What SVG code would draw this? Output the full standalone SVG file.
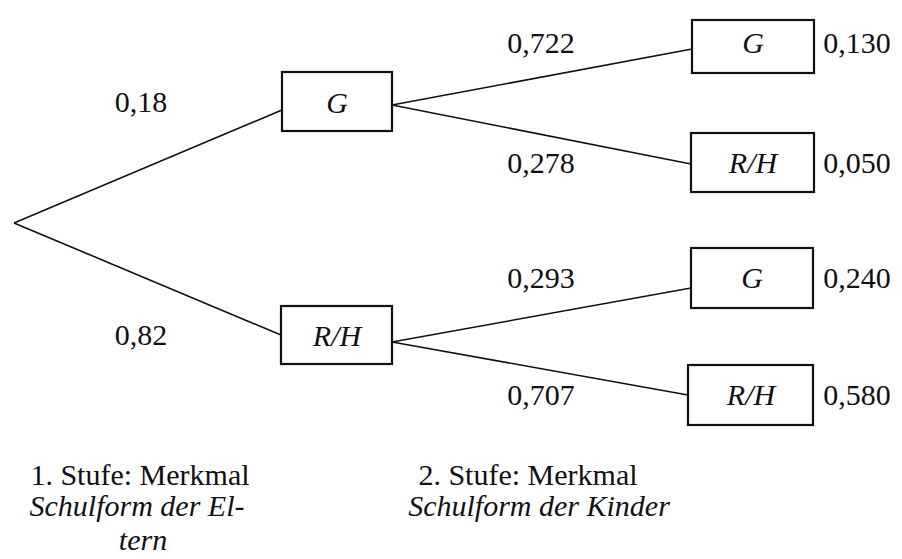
<svg xmlns="http://www.w3.org/2000/svg" width="902" height="559" viewBox="0 0 902 559">
<style>
.box{fill:#fff;stroke:#111;stroke-width:2.2}
.ln{fill:none;stroke:#111;stroke-width:1.6}
text{font-family:"Liberation Serif","Times New Roman",serif;font-size:30px;fill:#111;text-anchor:middle}
.i{font-style:italic}
.c{font-size:30px}
</style>
<rect width="902" height="559" fill="#fff"/>
<g id="connectors">
<line class="ln" x1="14" y1="223" x2="282" y2="110"/>
<line class="ln" x1="14" y1="223" x2="281" y2="335"/>
<line class="ln" x1="392" y1="105" x2="692" y2="49"/>
<line class="ln" x1="392" y1="105" x2="691" y2="164"/>
<line class="ln" x1="392" y1="342" x2="691" y2="288"/>
<line class="ln" x1="392" y1="342" x2="688" y2="395"/>
</g>
<g id="edge-labels">
<text x="141" y="112">0,18</text>
<text x="141" y="345">0,82</text>
<text x="541" y="53">0,722</text>
<text x="541" y="173">0,278</text>
<text x="541" y="288">0,293</text>
<text x="541" y="405">0,707</text>
</g>
<g id="n1">
<rect class="box" x="282" y="72" width="110" height="59"/>
<text class="i" x="337" y="113">G</text>
</g>
<g id="n2">
<rect class="box" x="281" y="306" width="111" height="58"/>
<text class="i" x="337" y="346">R/H</text>
</g>
<g id="n11">
<rect class="box" x="692" y="20" width="122" height="53"/>
<text class="i" x="753" y="53">G</text>
<text x="857" y="53">0,130</text>
</g>
<g id="n12">
<rect class="box" x="691" y="133" width="123" height="59"/>
<text class="i" x="753" y="173">R/H</text>
<text x="857" y="173">0,050</text>
</g>
<g id="n21">
<rect class="box" x="691" y="248" width="122" height="60"/>
<text class="i" x="752" y="288">G</text>
<text x="857" y="288">0,240</text>
</g>
<g id="n22">
<rect class="box" x="688" y="365" width="125" height="60"/>
<text class="i" x="751" y="405">R/H</text>
<text x="857" y="405">0,580</text>
</g>
<g id="captions">
<text class="c" x="140" y="485">1. Stufe: Merkmal</text>
<text class="i c" x="137" y="516">Schulform der El-</text>
<text class="i c" x="143" y="550">tern</text>
<text class="c" x="528" y="485">2. Stufe: Merkmal</text>
<text class="i c" x="539" y="516">Schulform der Kinder</text>
</g>
</svg>
